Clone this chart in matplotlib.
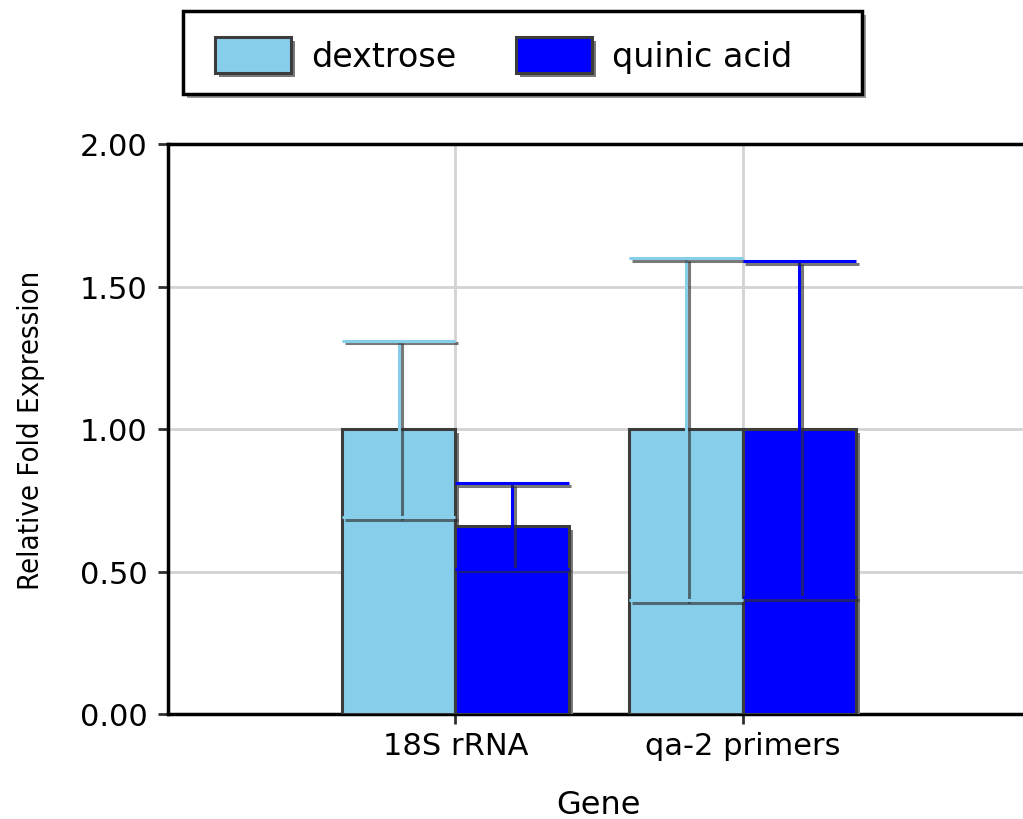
import matplotlib
matplotlib.use("Agg")
import matplotlib.pyplot as plt
import matplotlib.patheffects as pe
from matplotlib.patches import Rectangle
import numpy as np

# data
genes = ["18S rRNA", "qa-2 primers"]
series = ["dextrose", "quinic acid"]
dextrose_vals = [1.00, 1.00]
dextrose_err = [0.31, 0.60]
quinic_vals = [0.66, 1.00]
quinic_err = [0.15, 0.59]
y_ticks = [0.0, 0.5, 1.0, 1.5, 2.0]

colors = ["#87CEEB", "#0000FF"]
bar_w = 0.394

plt.rcParams["font.family"] = "DejaVu Sans"

fig = plt.figure(figsize=(10.23, 8.2), dpi=100)
# axes runs slightly past the right edge, like the original screenshot
ax = fig.add_axes([168 / 1023, 105 / 820, 862 / 1023, 570 / 820])

bar_shadow = [pe.SimplePatchShadow(offset=(3, -3), shadow_rgbFace="#7a7a7a", alpha=1.0), pe.Normal()]
line_shadow = [pe.SimpleLineShadow(offset=(2, -2), shadow_color="#303030", alpha=0.65), pe.Normal()]

x = np.arange(1, len(genes) + 1)
for i, (vals, errs) in enumerate([(dextrose_vals, dextrose_err), (quinic_vals, quinic_err)]):
    xs = x + (i - 0.5) * bar_w
    ax.bar(xs, vals, width=bar_w, color=colors[i], edgecolor="#3c3c3c", linewidth=2.2,
           label=series[i], zorder=3, path_effects=bar_shadow)
    lo = np.array(vals) - np.array(errs)
    hi = np.array(vals) + np.array(errs)
    ax.vlines(xs, lo, hi, colors=colors[i], linewidth=2.2, zorder=4, path_effects=line_shadow)
    ax.hlines(hi, xs - bar_w / 2, xs + bar_w / 2, colors=colors[i], linewidth=2.2, zorder=4,
              path_effects=line_shadow)
    ax.hlines(lo, xs - bar_w / 2, xs + bar_w / 2, colors=colors[i], linewidth=2.2, zorder=4,
              path_effects=line_shadow)

ax.set_xlim(0, 3)
ax.set_ylim(0, 2.0)
ax.set_xticks(x)
ax.set_xticklabels(genes, fontsize=22)
ax.set_yticks(y_ticks)
ax.set_yticklabels([f"{v:.2f}" for v in y_ticks], fontsize=22)
ax.tick_params(axis="both", direction="out", length=7.5, width=2, color="#303030")
ax.tick_params(axis="y", pad=7)
ax.tick_params(axis="x", pad=5)

ax.grid(True, color="#d3d3d3", linewidth=2, zorder=0)
ax.set_axisbelow(True)
for side in ["left", "top", "bottom"]:
    ax.spines[side].set_linewidth(2.5)
    ax.spines[side].set_color("black")
ax.spines["right"].set_visible(False)

ax.set_xlabel("Gene", fontsize=23)
ax.xaxis.set_label_coords(0.5, -0.131)
ax.set_ylabel("Relative Fold Expression", fontsize=21, fontstretch="condensed")
ax.yaxis.set_label_coords(-0.143, 0.5)

# legend box with drop shadow
box = Rectangle((183 / 1023, 1 - 95 / 820), 679 / 1023, 83 / 820, transform=fig.transFigure,
                facecolor="white", edgecolor="black", linewidth=2.5,
                path_effects=[pe.SimplePatchShadow(offset=(3, -3), shadow_rgbFace="#999999", alpha=1.0), pe.Normal()])
fig.patches.append(box)

leg = fig.legend(loc="center left", bbox_to_anchor=(215 / 1023, 1 - 56 / 820), ncol=2,
                 frameon=False, fontsize=24, borderpad=0, borderaxespad=0,
                 handlelength=2.27, handleheight=1.27, handletextpad=0.6, columnspacing=1.8)

fig.savefig("out.png", dpi=100)
